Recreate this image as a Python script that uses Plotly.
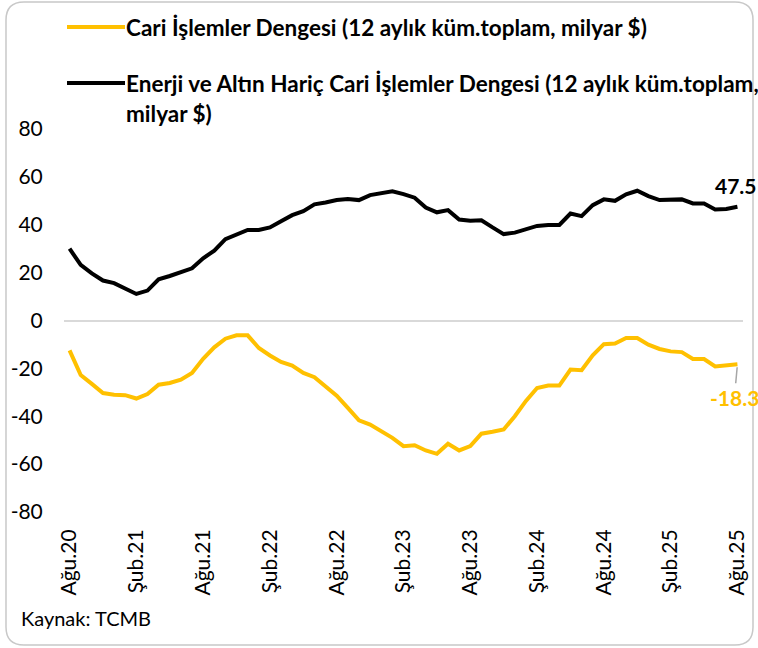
import plotly.graph_objects as go

# Türkçe ay kısaltmaları
AYLAR = ['Oca', 'Şub', 'Mar', 'Nis', 'May', 'Haz', 'Tem', 'Ağu', 'Eyl', 'Eki', 'Kas', 'Ara']

# Ağu.20 - Ağu.25 arası aylık dönemler
donemler = [f"{AYLAR[(7 + k) % 12]}.{20 + (7 + k) // 12}" for k in range(61)]

# Eksen etiketleri
tick_labels = ['Ağu.20', 'Şub.21', 'Ağu.21', 'Şub.22', 'Ağu.22', 'Şub.23',
               'Ağu.23', 'Şub.24', 'Ağu.24', 'Şub.25', 'Ağu.25']
y_ticks = [80, 60, 40, 20, 0, -20, -40, -60, -80]

# Cari İşlemler Dengesi (12 aylık küm. toplam, milyar $)
cari = [-12.5, -22.8, -26.5, -30.3, -31.0, -31.2, -32.6, -30.7, -26.8, -26.1,
        -24.7, -21.9, -16.0, -11.2, -7.6, -6.2, -6.2, -11.5, -14.6, -17.3,
        -18.8, -21.9, -23.7, -27.5, -31.4, -36.5, -41.7, -43.5, -46.2, -49.0,
        -52.5, -52.1, -54.3, -55.7, -51.5, -54.3, -52.5, -47.3, -46.5, -45.5,
        -40.0, -33.6, -28.2, -27.2, -27.2, -20.5, -20.8, -14.5, -9.9, -9.6,
        -7.3, -7.3, -10.1, -11.9, -12.9, -13.2, -16.1, -16.1, -19.2, -18.8,
        -18.3]

# Enerji ve Altın Hariç Cari İşlemler Dengesi
enerji_altin_haric = [30.0, 23.2, 19.7, 16.7, 15.6, 13.3, 11.1, 12.5, 17.2, 18.6,
                      20.0, 21.8, 26.0, 29.2, 34.0, 36.0, 37.8, 37.8, 38.9, 41.5,
                      44.0, 45.7, 48.5, 49.3, 50.3, 50.8, 50.3, 52.4, 53.1, 54.0,
                      52.8, 51.3, 47.2, 45.2, 46.1, 42.2, 41.7, 41.9, 38.9, 36.1,
                      36.7, 38.1, 39.5, 39.9, 39.9, 44.7, 43.6, 48.2, 50.6, 50.0,
                      52.7, 54.2, 52.0, 50.3, 50.3, 50.6, 48.9, 48.9, 46.4, 46.6,
                      47.5]

SARI  = '#FFC000'
SIYAH = '#000000'
FONT  = 'Lato'

# çizim alanı (piksel)
W, H = 758, 648
L, R, T, B = 64, 15, 129, 136
PW, PH = W - L - R, H - T - B
X_RANGE = [-0.5, 60.5]
Y_RANGE = [-80, 80]


def px2paper(x, y):
    return (x - L) / PW, (H - B - y) / PH


def data2paper(i, v):
    return ((i - X_RANGE[0]) / (X_RANGE[1] - X_RANGE[0]),
            (v - Y_RANGE[0]) / (Y_RANGE[1] - Y_RANGE[0]))


fig = go.Figure()
fig.add_trace(go.Scatter(x=donemler, y=cari, mode='lines', name='Cari',
                         line=dict(color=SARI, width=4), showlegend=False))
fig.add_trace(go.Scatter(x=donemler, y=enerji_altin_haric, mode='lines', name='Enerji',
                         line=dict(color=SIYAH, width=4), showlegend=False))

# çerçeve (yuvarlatılmış)
x0, y0, x1, y1, r = 6, 2, 753, 645, 18
def p(x, y):
    a, b = px2paper(x, y)
    return f"{a:.5f},{b:.5f}"
path = (f"M {p(x0 + r, y0)} L {p(x1 - r, y0)} Q {p(x1, y0)} {p(x1, y0 + r)} "
        f"L {p(x1, y1 - r)} Q {p(x1, y1)} {p(x1 - r, y1)} "
        f"L {p(x0 + r, y1)} Q {p(x0, y1)} {p(x0, y1 - r)} "
        f"L {p(x0, y0 + r)} Q {p(x0, y0)} {p(x0 + r, y0)} Z")
shapes = [dict(type='path', xref='paper', yref='paper', path=path,
               line=dict(color='#c8c8c8', width=1.5))]

# el yapımı lejant
annotations = []
for (ly, color, lines) in [
    (27, SARI, [(27, 'Cari İşlemler Dengesi (12 aylık küm.toplam, milyar $)')]),
    (83, SIYAH, [(83, 'Enerji ve Altın Hariç Cari İşlemler Dengesi (12 aylık küm.toplam,'),
                 (113, 'milyar $)')]),
]:
    a0, b0 = px2paper(67, ly)
    a1, _ = px2paper(125, ly)
    shapes.append(dict(type='line', xref='paper', yref='paper', x0=a0, x1=a1, y0=b0, y1=b0,
                       line=dict(color=color, width=4)))
    for (ty, txt) in lines:
        ax_, ay_ = px2paper(124, ty)
        annotations.append(dict(xref='paper', yref='paper', x=ax_, y=ay_, text=f'<b>{txt}</b>',
                                showarrow=False, xanchor='left', yanchor='middle',
                                font=dict(family=FONT, size=22.5, color='#000000')))

# son değer etiketleri
n = len(donemler) - 1
ex, ey = data2paper(n, enerji_altin_haric[-1])
annotations.append(dict(xref='paper', yref='paper', x=ex, y=ey,
                        text=f'<b>{enerji_altin_haric[-1]}</b>', showarrow=False,
                        xanchor='center', yanchor='middle', xshift=-1, yshift=21,
                        font=dict(family=FONT, size=21, color=SIYAH)))
cx, cy = data2paper(n, cari[-1])
annotations.append(dict(xref='paper', yref='paper', x=cx, y=cy, text=f'<b>{cari[-1]}</b>',
                        showarrow=True, arrowhead=0, arrowwidth=1.5, arrowcolor='#a6a6a6',
                        ax=-3, ay=33, standoff=3,
                        font=dict(family=FONT, size=21, color=SARI)))

# kaynak
kx, ky = px2paper(19, 618)
annotations.append(dict(xref='paper', yref='paper', x=kx, y=ky, text='Kaynak: TCMB',
                        showarrow=False, xanchor='left', yanchor='middle',
                        font=dict(family=FONT, size=20, color='#000000')))

fig.update_layout(
    width=W, height=H,
    margin=dict(l=L, r=R, t=T, b=B, autoexpand=False),
    paper_bgcolor='white', plot_bgcolor='white',
    font=dict(family=FONT, size=20, color='#000000'),
    shapes=shapes, annotations=annotations,
)
fig.update_xaxes(type='category', range=X_RANGE, tickvals=tick_labels, ticktext=tick_labels,
                 tickangle=-90, showgrid=False, showline=False, zeroline=False,
                 ticks='outside', ticklen=8, tickcolor='rgba(0,0,0,0)',
                 tickfont=dict(family=FONT, size=21))
fig.update_yaxes(range=Y_RANGE, tickvals=y_ticks, ticktext=[str(v) for v in y_ticks],
                 showgrid=False, showline=False,
                 zeroline=True, zerolinecolor='#d9d9d9', zerolinewidth=1.5,
                 ticks='outside', ticklen=16, tickcolor='rgba(0,0,0,0)',
                 tickfont=dict(family=FONT, size=21))

fig.write_html("out.html", config={'displayModeBar': False},
               post_script="document.body.style.margin='0';")
